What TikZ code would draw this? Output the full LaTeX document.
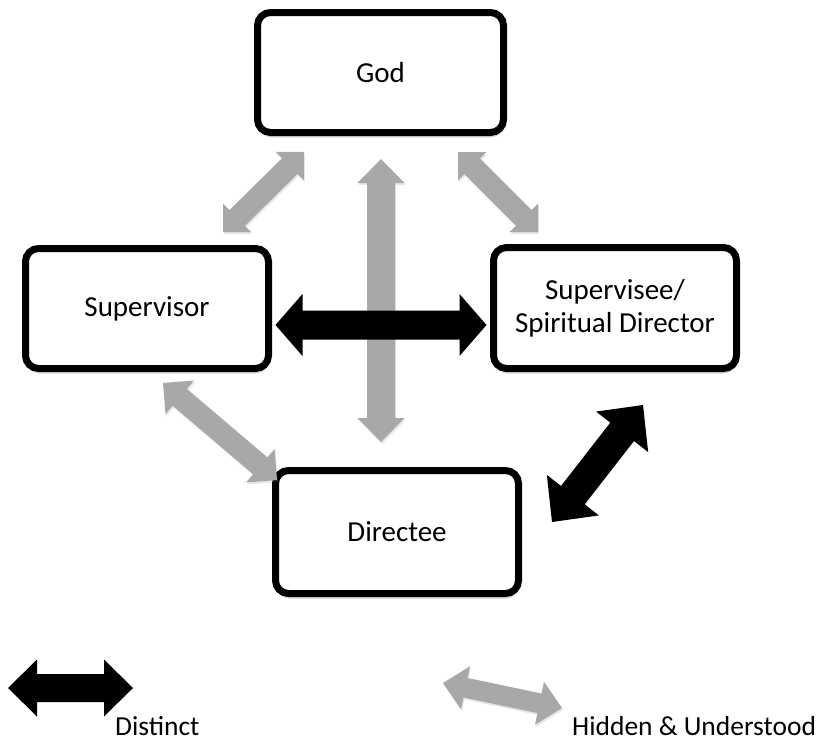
\documentclass[tikz,border=0pt]{standalone}
\usepackage{fontspec}
\setmainfont{Carlito}
\usetikzlibrary{calc,shadows}
\definecolor{arrgray}{RGB}{168,168,168}
% double-headed block arrow: #1 style, #2 from, #3 to, #4 head length, #5 head half-width, #6 shaft half-width
\newcommand{\dblarr}[6]{%
  \coordinate (da1) at ($(#2)!#4!(#3)$);
  \coordinate (da2) at ($(#3)!#4!(#2)$);
  \fill[#1] (#2) -- ($(da1)!#5!90:(#3)$) -- ($(da1)!#6!90:(#3)$)
    -- ($(da2)!#6!-90:(#2)$) -- ($(da2)!#5!-90:(#2)$) -- (#3)
    -- ($(da2)!#5!90:(#2)$) -- ($(da2)!#6!90:(#2)$)
    -- ($(da1)!#6!-90:(#3)$) -- ($(da1)!#5!-90:(#3)$) -- cycle;}
\begin{document}
\begin{tikzpicture}[x=1pt,y=-1pt,
  box/.style={draw=black, line width=7pt, rounded corners=13pt, fill=white,
    inner sep=0pt, align=center, font=\fontsize{29}{33}\selectfont,
    drop shadow={opacity=0.3, shadow xshift=1pt, shadow yshift=-5pt}},
  graystyle/.style={fill=arrgray, drop shadow={opacity=0.2, shadow xshift=1pt, shadow yshift=-2pt}},
  blackstyle/.style={fill=black},
  legtext/.style={inner sep=0pt, text depth=0pt, font=\fontsize{27.5}{33}\selectfont}]
\useasboundingbox (0,0) rectangle (824,744);

% boxes
\node[box, minimum width=246pt, minimum height=120pt] (god) at (380.5,72.5) {God};
\node[box, minimum width=243pt, minimum height=120pt] (sup) at (147,308.5) {Supervisor};
\node[box, minimum width=243pt, minimum height=121pt] (sdir) at (615,308) {Supervisee/\\Spiritual Director};
\node[box, minimum width=243pt, minimum height=123pt] (dee) at (397,532) {Directee};

% arrow end points
\coordinate (gv1) at (381,159);   \coordinate (gv2) at (381,442);
\coordinate (gl1) at (304,152);   \coordinate (gl2) at (223,232);
\coordinate (gr1) at (458,152);   \coordinate (gr2) at (538,232);
\coordinate (sd1) at (163,383);   \coordinate (sd2) at (277,480);
\coordinate (ss1) at ($(sup.east)+(3.5,16.5)$);
\coordinate (ss2) at ($(sdir.west)+(-3.5,17)$);
\coordinate (dd1) at (643,405);   \coordinate (dd2) at (552,522);
\coordinate (lb1) at (8,688);     \coordinate (lb2) at (133,688);
\coordinate (lg1) at (443,683);   \coordinate (lg2) at (562,708);

% hidden & understood (gray) arrows
\dblarr{graystyle}{gl1}{gl2}{20pt}{20pt}{11pt}
\dblarr{graystyle}{gr1}{gr2}{20pt}{20pt}{11pt}
\dblarr{graystyle}{sd1}{sd2}{22pt}{22pt}{11pt}
\dblarr{graystyle}{gv1}{gv2}{24pt}{23.5pt}{14pt}

% distinct (black) arrows
\dblarr{blackstyle}{ss1}{ss2}{27pt}{31pt}{14.5pt}
\dblarr{blackstyle}{dd1}{dd2}{34pt}{33pt}{15pt}

% legend
\dblarr{blackstyle}{lb1}{lb2}{29pt}{28.5pt}{14pt}
\node[legtext, anchor=base west] (ldist) at (115,735) {Distinct};
\dblarr{graystyle}{lg1}{lg2}{23pt}{22pt}{10pt}
\node[legtext, anchor=base west] (lhid) at (572,735) {Hidden \& Understood};
\end{tikzpicture}
\end{document}
